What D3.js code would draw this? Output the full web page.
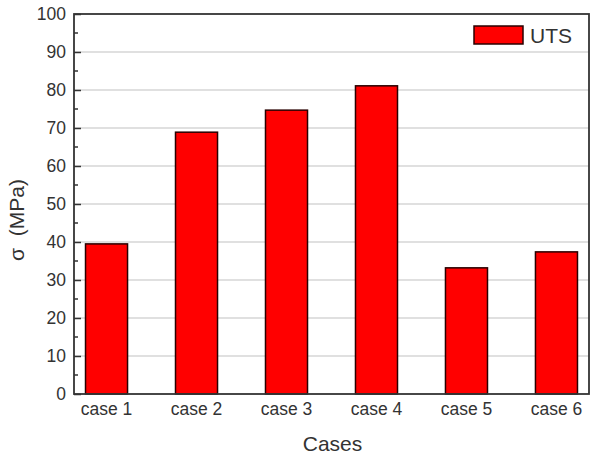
<!DOCTYPE html>
<html><head><meta charset="utf-8">
<script src="https://cdn.jsdelivr.net/npm/d3@7"></script>
<style>body{margin:0;background:#fff}svg{display:block}text{font-family:"Liberation Sans",Arial,sans-serif;fill:#333}</style>
</head><body><svg id="c" width="595" height="456"></svg>
<script>
const categories = ["case 1","case 2","case 3","case 4","case 5","case 6"];
const utsValues = [39.5, 68.9, 74.7, 81.1, 33.2, 37.4];
const yTicks = [0,10,20,30,40,50,60,70,80,90,100];
const yMinorTicks = [5,15,25,35,45,55,65,75,85,95];
const seriesName = "UTS";

const svg = d3.select("#c");
const L = 74, R = 589, T = 14, B = 394;
const x = d3.scaleBand().domain(categories).range([L, R]).paddingInner(0.533).paddingOuter(0.128);
const y = d3.scaleLinear().domain([0, 100]).range([B, T]);

// gridlines
svg.append("g").selectAll("line").data(yTicks.filter(d => d > 0 && d < 100)).join("line")
  .attr("x1", L).attr("x2", R).attr("y1", d => y(d)).attr("y2", d => y(d))
  .attr("stroke", "#d6d6d6").attr("stroke-width", 1.5);

// bars
svg.append("g").selectAll("rect").data(utsValues).join("rect")
  .attr("x", (d, i) => x(categories[i]))
  .attr("y", d => y(d))
  .attr("width", x.bandwidth())
  .attr("height", d => y(0) - y(d))
  .attr("fill", "#ff0000").attr("stroke", "#2a0000").attr("stroke-width", 1.5);

// frame
svg.append("rect").attr("x", L).attr("y", T).attr("width", R - L).attr("height", B - T)
  .attr("fill", "none").attr("stroke", "#333").attr("stroke-width", 1.8);

// y axis
const yAxis = d3.axisLeft(y).tickValues(yTicks).tickSize(-7).tickPadding(8).tickSizeOuter(0);
const gy = svg.append("g").attr("transform", `translate(${L},0)`).call(yAxis);
gy.select(".domain").remove();
gy.selectAll(".tick line").attr("stroke", "#333").attr("stroke-width", 1.5);
gy.selectAll(".tick text").attr("font-size", 17.5).attr("fill", "#333")
  .attr("font-family", '"Liberation Sans",Arial,sans-serif');
// minor ticks
svg.append("g").selectAll("line").data(yMinorTicks).join("line")
  .attr("x1", L).attr("x2", L + 4).attr("y1", d => y(d)).attr("y2", d => y(d))
  .attr("stroke", "#333").attr("stroke-width", 1.5);

// x axis
const xAxis = d3.axisBottom(x).tickSize(0).tickPadding(9);
const gx = svg.append("g").attr("transform", `translate(0,${B})`).call(xAxis);
gx.select(".domain").remove();
gx.selectAll(".tick text").attr("font-size", 17.5).attr("fill", "#333")
  .attr("font-family", '"Liberation Sans",Arial,sans-serif');

// axis titles
svg.append("text").attr("x", (L + R) / 2 + 1).attr("y", 451).attr("text-anchor", "middle")
  .attr("font-size", 21).text("Cases");
svg.append("text").attr("transform", "translate(24,220) rotate(-90)").attr("text-anchor", "middle")
  .attr("font-size", 21).text("σ  (MPa)").attr("xml:space", "preserve").style("white-space", "pre");

// legend
svg.append("rect").attr("x", 474).attr("y", 26).attr("width", 49).attr("height", 18)
  .attr("fill", "#ff0000").attr("stroke", "#2a0000").attr("stroke-width", 1.5);
svg.append("text").attr("x", 530).attr("y", 43).attr("font-size", 21).text(seriesName);
</script></body></html>
